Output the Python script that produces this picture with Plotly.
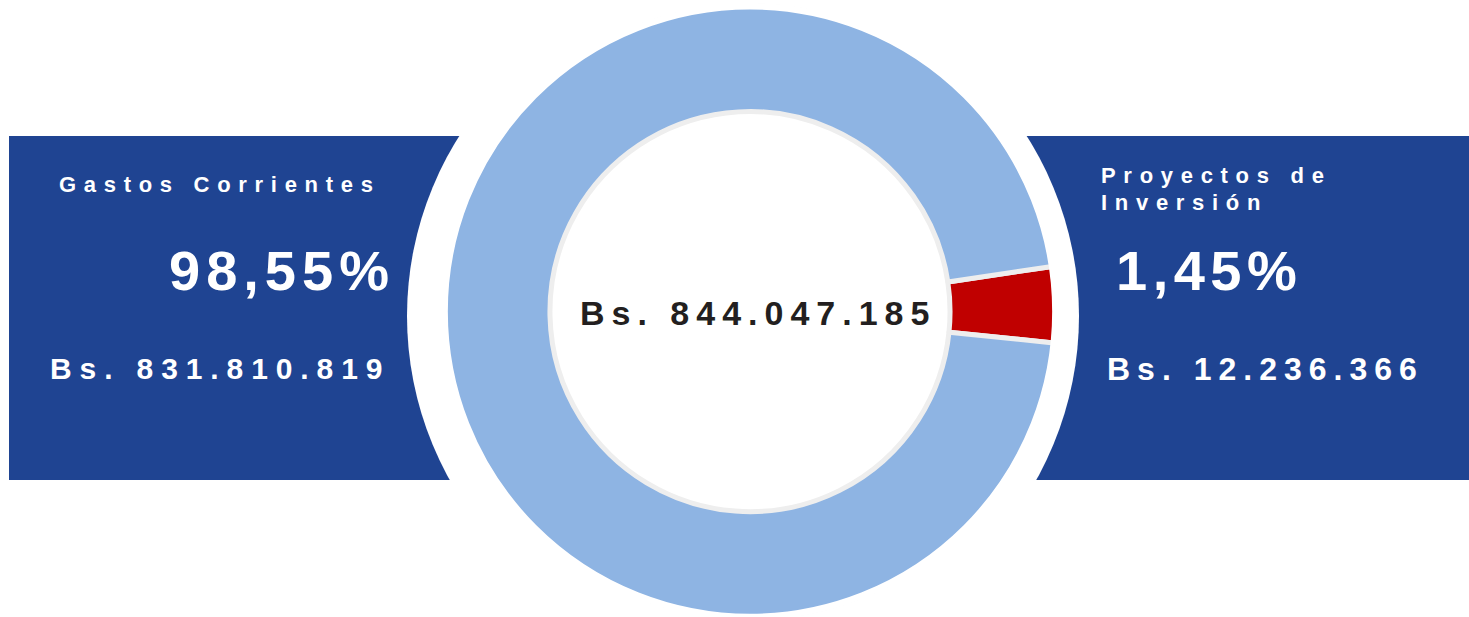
import plotly.graph_objects as go

# data
categories = ["Proyectos de Inversión", "Gastos Corrientes"]
amounts = [12236366, 831810819]
percent_labels = ["1,45%", "98,55%"]
total_amount = 844047185
# share of the ring as it is drawn in the picture (red wedge is drawn wider than 1,45%)
drawn_share = [4.0, 96.0]
slice_colors = ["#c00000", "#8eb4e3"]

W, H = 1469, 617
FONT = "Liberation Sans, Arial, sans-serif"
DARK_BLUE = "#1f4492"
CX = 0.51055  # ring centre (paper x)
DOM_Y = 0.99


def bs(v):
    return "Bs. " + f"{v:,}".replace(",", ".")


def spaced(txt, ls):
    return f'<span style="letter-spacing:{ls}px">{txt}</span>'


def px_x(x):
    return x / W


def px_y(y):
    return 1 - y / H


fig = go.Figure()

fig.add_trace(go.Pie(
    labels=categories,
    values=drawn_share,
    hole=0.655,
    sort=False,
    direction="clockwise",
    rotation=81.5,
    marker=dict(colors=slice_colors, line=dict(color="#eeeeee", width=5)),
    textinfo="none",
    hoverinfo="skip",
    showlegend=False,
    domain=dict(x=[CX - 0.25, CX + 0.25], y=[0.0, DOM_Y]),
))

R_OUT = DOM_Y * H / 2

shapes = [
    # blue bands behind the ring
    dict(type="rect", xref="paper", yref="paper", x0=px_x(9), x1=0.55,
         y0=px_y(480), y1=px_y(136), fillcolor=DARK_BLUE, line_width=0, layer="below"),
    dict(type="rect", xref="paper", yref="paper", x0=0.45, x1=1.0,
         y0=px_y(480), y1=px_y(136), fillcolor=DARK_BLUE, line_width=0, layer="below"),
    # white cut-out around the ring
    dict(type="circle", xref="paper", yref="paper", xsizemode="pixel", ysizemode="pixel",
         xanchor=px_x(743), yanchor=px_y(316), x0=-336, x1=336, y0=-336, y1=336,
         fillcolor="white", line_width=0, layer="below"),
    # hide the grey stroke on the outer edge of the ring
    dict(type="circle", xref="paper", yref="paper", xsizemode="pixel", ysizemode="pixel",
         xanchor=CX, yanchor=DOM_Y / 2, x0=-R_OUT, x1=R_OUT, y0=-R_OUT, y1=R_OUT,
         fillcolor="rgba(0,0,0,0)", line=dict(color="white", width=6.5), layer="above"),
]

ann = []


def add_text(txt, x, y, size, ls, xanchor, color="white"):
    ann.append(dict(text=spaced(txt, ls), x=px_x(x), y=px_y(y), xref="paper", yref="paper",
                    xanchor=xanchor, yanchor="middle", showarrow=False,
                    font=dict(family=FONT, size=size, color=color, weight="bold")))


# left band
add_text(categories[1], 383, 184, 22, 7.7, "right")
add_text(percent_labels[1], 397, 270, 56, 6, "right")
add_text(bs(amounts[1]), 392, 368.5, 30, 7.9, "right")

# right band
add_text("Proyectos de", 1099, 175.5, 22, 7.7, "left")
add_text("Inversión", 1099, 203, 22, 7.7, "left")
add_text(percent_labels[0], 1114, 270, 56, 5.5, "left")
add_text(bs(amounts[0]), 1105, 368.5, 32, 7, "left")

# centre total
add_text(bs(total_amount), 758, 313, 34, 7, "center", color="#231f20")

fig.update_layout(
    width=W, height=H,
    margin=dict(l=0, r=0, t=0, b=0),
    paper_bgcolor="white",
    plot_bgcolor="white",
    shapes=shapes,
    annotations=ann,
)

fig.write_html("out.html", config={"displayModeBar": False},
               post_script="document.body.style.margin='0';document.body.style.overflow='hidden';")
